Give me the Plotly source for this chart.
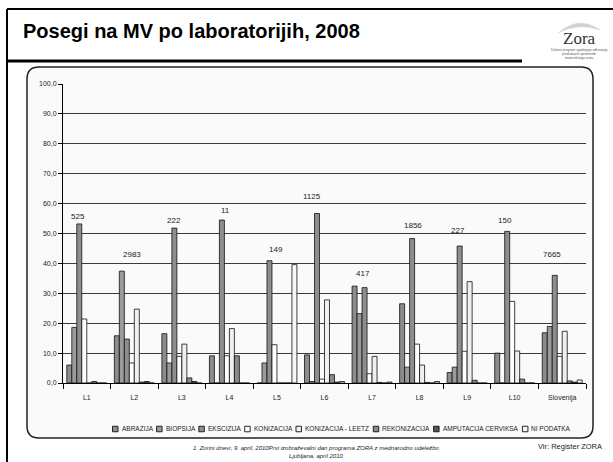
import plotly.graph_objects as go

# ---- data -------------------------------------------------------------
labs = ["L1", "L2", "L3", "L4", "L5", "L6", "L7", "L8", "L9", "L10", "Slovenija"]
cases = ["525", "2983", "222", "11", "149", "1125", "417", "1856", "227", "150", "7665"]

abrazija = [6.0, 15.8, 16.5, 9.1, 0.0, 9.4, 32.4, 26.5, 3.5, 10.0, 16.8]
biopsija = [18.6, 37.4, 6.7, 0.0, 6.7, 0.5, 23.2, 5.3, 5.3, 0.0, 18.9]
ekscizija = [53.2, 14.7, 51.8, 54.5, 40.9, 56.7, 31.9, 48.3, 45.8, 50.7, 36.0]
konizacija = [21.4, 6.7, 8.9, 9.1, 12.8, 1.3, 3.1, 13.0, 10.6, 27.3, 8.9]
konizacija_leetz = [0.0, 24.7, 13.0, 18.2, 0.0, 27.8, 8.9, 6.0, 33.9, 10.7, 17.3]
rekonizacija = [0.5, 0.3, 1.7, 9.1, 0.0, 2.8, 0.2, 0.2, 0.9, 1.3, 0.7]
amputacija = [0.0, 0.5, 0.5, 0.0, 0.0, 0.3, 0.0, 0.0, 0.0, 0.0, 0.3]
ni_podatka = [0.0, 0.0, 0.0, 0.0, 39.6, 0.5, 0.3, 0.5, 0.0, 0.0, 1.0]

series_names = ["ABRAZIJA", "BIOPSIJA", "EKSCIZIJA", "KONIZACIJA",
                "KONIZACIJA - LEETZ", "REKONIZACIJA", "AMPUTACIJA CERVIKSA",
                "NI PODATKA"]
series_values = [abrazija, biopsija, ekscizija, konizacija,
                 konizacija_leetz, rekonizacija, amputacija, ni_podatka]
series_colors = ["#8c8c8c", "#9b9b9b", "#8e8e8e", "#ffffff",
                 "#f0f0f0", "#8a8a8a", "#555555", "#f7f7f7"]

y_ticks = [0, 10, 20, 30, 40, 50, 60, 70, 80, 90, 100]

# placement of the case-count labels (category offset, height)
case_dx = [-0.18, -0.05, -0.155, -0.09, -0.02, -0.26, -0.20, -0.14, -0.20, -0.21, -0.21]
case_y = [55.7, 42.9, 54.2, 57.6, 44.5, 62.4, 36.5, 52.6, 50.9, 54.2, 42.9]

# ---- geometry helpers ---------------------------------------------------
W, H = 613, 462
ML, MR, MT, MB = 63, 27, 84, 79
PW, PH = W - ML - MR, H - MT - MB


def px(x):
    return (x - ML) / PW


def py(y):
    return (H - MB - y) / PH


fig = go.Figure()
for name, vals, col in zip(series_names, series_values, series_colors):
    fig.add_trace(go.Bar(
        x=labs, y=vals, name=name,
        marker=dict(color=col, line=dict(color="#111111", width=0.8)),
        showlegend=False,
    ))

shapes = []
annotations = []

# outer slide frame
shapes.append(dict(type="line", xref="paper", yref="paper",
                   x0=px(7), x1=px(613), y0=py(9), y1=py(9),
                   line=dict(color="#000", width=2)))
shapes.append(dict(type="line", xref="paper", yref="paper",
                   x0=px(7), x1=px(7), y0=py(9), y1=py(462),
                   line=dict(color="#000", width=2)))
# rule under the title
shapes.append(dict(type="line", xref="paper", yref="paper",
                   x0=px(7), x1=px(522), y0=py(61), y1=py(61),
                   line=dict(color="#000", width=3)))

# rounded chart box
bx0, by0, bx1, by1, rr = 27, 67, 593, 438, 12
path = (f"M {px(bx0 + rr)} {py(by0)} L {px(bx1 - rr)} {py(by0)} "
        f"Q {px(bx1)} {py(by0)} {px(bx1)} {py(by0 + rr)} "
        f"L {px(bx1)} {py(by1 - rr)} Q {px(bx1)} {py(by1)} {px(bx1 - rr)} {py(by1)} "
        f"L {px(bx0 + rr)} {py(by1)} Q {px(bx0)} {py(by1)} {px(bx0)} {py(by1 - rr)} "
        f"L {px(bx0)} {py(by0 + rr)} Q {px(bx0)} {py(by0)} {px(bx0 + rr)} {py(by0)} Z")
shapes.append(dict(type="path", xref="paper", yref="paper", path=path,
                   fillcolor="#fafafa", line=dict(color="#222", width=1.5),
                   layer="below"))

# logo swoosh
logo_path = (f"M {px(558)} {py(33)} Q {px(579)} {py(15)} {px(600)} {py(30)} "
             f"Q {px(579)} {py(22)} {px(558)} {py(33)} Z")
shapes.append(dict(type="path", xref="paper", yref="paper", path=logo_path,
                   fillcolor="#d2d2d2", line=dict(color="#d2d2d2", width=0.5)))

# title
annotations.append(dict(xref="paper", yref="paper", x=px(21), y=py(31),
                        xanchor="left", yanchor="middle", showarrow=False,
                        text="<b>Posegi na MV po laboratorijih, 2008</b>",
                        font=dict(family="Liberation Sans, Arial", size=20, color="#000")))
# logo text
annotations.append(dict(xref="paper", yref="paper", x=px(579), y=py(38),
                        xanchor="center", yanchor="middle", showarrow=False,
                        text="Zora",
                        font=dict(family="Liberation Serif, Times New Roman", size=17, color="#333")))
for i, line in enumerate(["Državni program zgodnjega odkrivanja",
                          "predrakavih sprememb",
                          "materničnega vratu"]):
    annotations.append(dict(xref="paper", yref="paper", x=px(579), y=py(50 + 4 * i),
                            xanchor="center", yanchor="middle", showarrow=False,
                            text=line,
                            font=dict(family="Liberation Sans, Arial", size=3.3, color="#555")))

# case counts above groups
for i, (c, dx, yy) in enumerate(zip(cases, case_dx, case_y)):
    annotations.append(dict(xref="x", yref="y", x=i + dx, y=yy,
                            xanchor="center", yanchor="middle", showarrow=False,
                            text=c,
                            font=dict(family="Liberation Sans, Arial", size=8, color="#222")))

# legend row
em = {"A": .667, "B": .667, "C": .722, "D": .722, "E": .667, "G": .778, "I": .278,
      "J": .5, "K": .667, "L": .556, "M": .833, "N": .722, "O": .778, "P": .667,
      "R": .722, "S": .667, "T": .611, "U": .722, "V": .667, "Z": .611, " ": .278,
      "-": .333}
lfs = 6.5
lx = 112.5
ly = 429
for name, col in zip(series_names, series_colors):
    shapes.append(dict(type="rect", xref="paper", yref="paper",
                       x0=px(lx), x1=px(lx + 5.5), y0=py(ly - 2.75), y1=py(ly + 2.75),
                       fillcolor=col, line=dict(color="#111", width=0.9)))
    annotations.append(dict(xref="paper", yref="paper", x=px(lx + 8), y=py(ly),
                            xanchor="left", yanchor="middle", showarrow=False,
                            text=name, borderpad=0,
                            font=dict(family="Liberation Sans, Arial", size=lfs, color="#222")))
    tw = sum(em.get(ch, .6) for ch in name) * lfs
    lx += 8 + tw + 5

# footer
annotations.append(dict(xref="paper", yref="paper", x=px(316), y=py(452),
                        xanchor="center", yanchor="middle", showarrow=False,
                        text="<i>1. Zorini dnevi, 9. april, 2010Prvi izobraževalni dan programa ZORA z mednarodno udeležbo"
                             "<br>Ljubljana, april 2010</i>",
                        font=dict(family="Liberation Sans, Arial", size=6, color="#222")))
annotations.append(dict(xref="paper", yref="paper", x=px(604), y=py(446),
                        xanchor="right", yanchor="middle", showarrow=False,
                        text="Vir: Register ZORA",
                        font=dict(family="Liberation Sans, Arial", size=7.5, color="#222")))

fig.update_layout(
    width=W, height=H, autosize=False,
    margin=dict(l=ML, r=MR, t=MT, b=MB, pad=0),
    paper_bgcolor="#ffffff",
    plot_bgcolor="rgba(0,0,0,0)",
    barmode="group", bargap=0.16, bargroupgap=0,
    separators=", ",
    font=dict(family="Liberation Sans, Arial", size=7, color="#222"),
    shapes=shapes, annotations=annotations,
    xaxis=dict(type="category", range=[-0.5, len(labs) - 0.5],
               showline=True, linecolor="#000", linewidth=1,
               ticks="outside", tickson="boundaries", ticklen=5,
               tickcolor="#000", tickwidth=1, ticklabelstandoff=8,
               showgrid=False, tickfont=dict(size=7)),
    yaxis=dict(range=[0, 100], tickvals=y_ticks, tickformat=".1f",
               showline=True, linecolor="#000", linewidth=1,
               ticks="outside", ticklen=4, tickcolor="#000",
               showgrid=True, gridcolor="#3a3a3a", gridwidth=1,
               zeroline=False, tickfont=dict(size=7)),
)

fig.write_html("out.html")
